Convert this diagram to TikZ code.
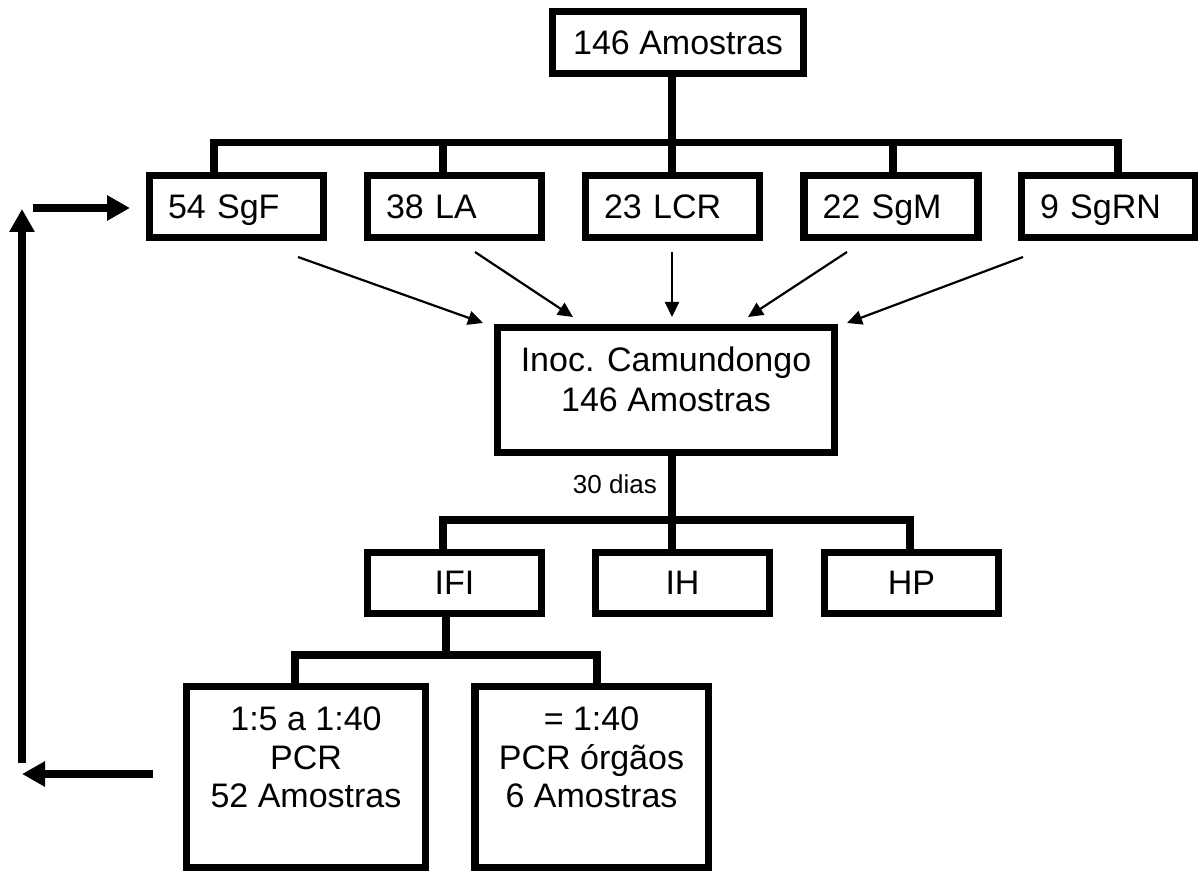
\documentclass[tikz,border=0pt]{standalone}
\usepackage{fontspec}
\setmainfont{Liberation Sans}
\usetikzlibrary{arrows.meta}

\begin{document}
\begin{tikzpicture}
[x=1pt, y=-1pt, font=\fontsize{34}{38.5}\selectfont, line join=miter]
\tikzstyle{box}=[draw, rectangle, line width=7.5pt, inner sep=0pt]
\tikzstyle{sample}=[box, minimum height=62pt, text width=137pt, inner xsep=18.5pt, align=left, text depth=0pt]
\tikzstyle{test}=[box, minimum width=174pt, minimum height=61pt]
\tikzstyle{result}=[box, minimum height=181pt, align=center]
\tikzstyle{tree}=[line width=7.5pt]
\tikzstyle{feedback}=[line width=7.5pt, -{Triangle[length=23pt, width=24pt]}]
\tikzstyle{inflow}=[line width=2.2pt, -{Triangle[length=15pt, width=14pt]}]

\useasboundingbox (0,0) rectangle (1198,874);

% boxes
\node[box, minimum width=251pt, minimum height=62pt] (total) at (678,42.5) {146 Amostras};

\node[sample]	(sgf)	at (236.5,206.5)	{54 SgF};
\node[sample]	(la)	at (454.5,206.5)	{38 LA};
\node[sample]	(lcr)	at (672.5,206.5)	{23 LCR};
\node[sample]	(sgm)	at (891,206.5)		{22 SgM};
\node[sample]	(sgrn)	at (1108.5,206.5)	{9 SgRN};

\node[box, minimum width=337pt, minimum height=125pt, align=center, font=\fontsize{34}{39.5}\selectfont]
	(mouse) at (666,390) {Inoc. Camundongo\\146 Amostras\rule[-22pt]{0pt}{0pt}};
\node[anchor=base east, inner sep=0pt, font=\fontsize{26}{30}\selectfont] (days) at (657,493) {30 dias};

\node[test]	(ifi)	at (454.5,583)	{IFI};
\node[test]	(ih)	at (682.5,583)	{IH};
\node[test]	(hp)	at (911.5,583)	{HP};

\node[result, minimum width=239pt]	(low)	at (306,777)
	{1:5 a 1:40\\PCR\\52 Amostras\rule[-39pt]{0pt}{0pt}};
\node[result, minimum width=233.5pt]	(high)	at (591.5,777)
	{= 1:40\\PCR órgãos\\6 Amostras\rule[-39pt]{0pt}{0pt}};

% tree connectors
\coordinate (b1) at (214,142.5);
\coordinate (b2) at (443,142.5);
\coordinate (b3) at (672,142.5);
\coordinate (b4) at (893,142.5);
\coordinate (b5) at (1118,142.5);
\draw[tree]	(total.south -| b3) -- (b3);
\draw[tree]	(sgf.north -| b1) -- (b1) -- (b5) -- (sgrn.north -| b5);
\draw[tree]	(b2) -- (la.north -| b2);
\draw[tree]	(b3) -- (lcr.north -| b3);
\draw[tree]	(b4) -- (sgm.north -| b4);

\coordinate (c1) at (443,520);
\coordinate (c2) at (672,520);
\coordinate (c3) at (910,520);
\draw[tree]	(mouse.south -| c2) -- (c2);
\draw[tree]	(ifi.north -| c1) -- (c1) -- (c3) -- (hp.north -| c3);
\draw[tree]	(c2) -- (ih.north -| c2);

\coordinate (d0) at (446,655);
\coordinate (d1) at (295,655);
\coordinate (d2) at (597,655);
\draw[tree]	(ifi.south -| d0) -- (d0);
\draw[tree]	(low.north -| d1) -- (d1) -- (d2) -- (high.north -| d2);

% samples into the mouse box
\coordinate (s1) at (298,257);	\coordinate (t1) at (483,323);
\coordinate (s2) at (475,252);	\coordinate (t2) at (573,317);
\coordinate (s3) at (672,252);	\coordinate (t3) at (672,317);
\coordinate (s4) at (847,252);	\coordinate (t4) at (748,317);
\coordinate (s5) at (1023,257);	\coordinate (t5) at (847,323);
\draw[inflow]	(s1) -- (t1);
\draw[inflow]	(s2) -- (t2);
\draw[inflow]	(s3) -- (t3);
\draw[inflow]	(s4) -- (t4);
\draw[inflow]	(s5) -- (t5);

% feedback loop
\coordinate (f1) at (153,774);
\coordinate (f2) at (22,774);
\coordinate (f3) at (22,763);
\coordinate (f4) at (22,209);
\coordinate (f5) at (33,208);
\coordinate (f6) at (130,208);
\draw[feedback]	(f1) -- (f2);
\draw[feedback]	(f3) -- (f4);
\draw[feedback]	(f5) -- (f6);

\end{tikzpicture}
\end{document}
